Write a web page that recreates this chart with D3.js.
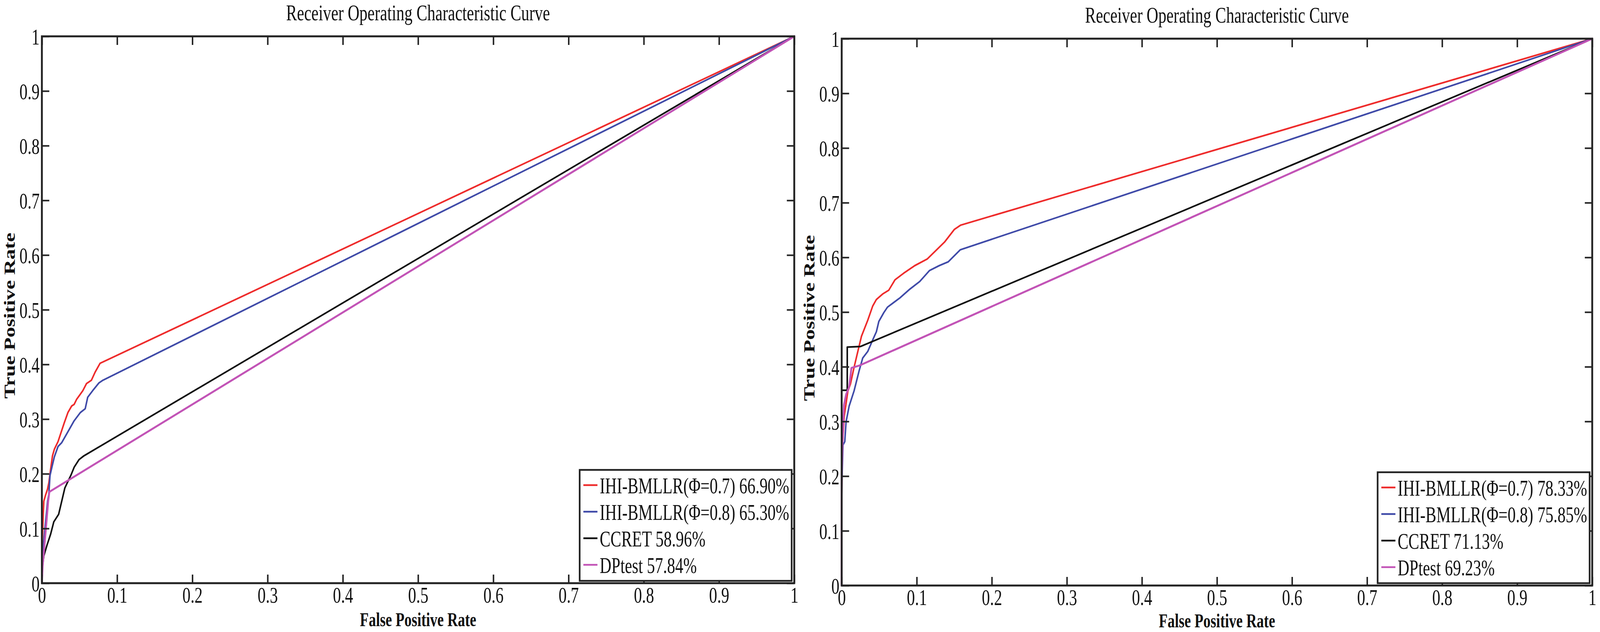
<!DOCTYPE html>
<html>
<head>
<meta charset="utf-8">
<script src="https://cdn.jsdelivr.net/npm/d3@7/dist/d3.min.js"></script>
<style>
  html, body { margin: 0; padding: 0; background: #fff; width: 100%; height: 100%; overflow: hidden; }
  svg { display: block; width: 100vw; height: 100vh; }
</style>
</head>
<body>
<script>
// ---------------- DATA ----------------
const titleText = "Receiver Operating Characteristic Curve";
const xLabelText = "False Positive Rate";
const yLabelText = "True Positive Rate";
const tickValues = [0, 0.1, 0.2, 0.3, 0.4, 0.5, 0.6, 0.7, 0.8, 0.9, 1];
const tickLabels = ["0", "0.1", "0.2", "0.3", "0.4", "0.5", "0.6", "0.7", "0.8", "0.9", "1"];
const seriesNames = ["IHI-BMLLR(\u03A6=0.7)", "IHI-BMLLR(\u03A6=0.8)", "CCRET", "DPtest"];
const leftAUC = ["66.90%", "65.30%", "58.96%", "57.84%"];
const rightAUC = ["78.33%", "75.85%", "71.13%", "69.23%"];

// Left panel ROC points [FPR, TPR]
const leftRed = [[0,0],[0.0003,0.04],[0.0005,0.078],[0.0012,0.10],[0.0018,0.126],[0.0026,0.15],[0.0051,0.162],[0.0075,0.172],[0.0092,0.183],[0.0117,0.209],[0.0141,0.233],[0.0166,0.245],[0.0215,0.259],[0.0297,0.293],[0.0346,0.312],[0.0396,0.324],[0.0429,0.327],[0.0461,0.336],[0.0544,0.352],[0.0593,0.365],[0.0658,0.371],[0.0708,0.386],[0.0773,0.402],[1,1]];
const leftBlue = [[0,0],[0.0003,0.03],[0.001,0.055],[0.0034,0.09],[0.0059,0.126],[0.0076,0.15],[0.0092,0.162],[0.0108,0.197],[0.0133,0.212],[0.0166,0.231],[0.0215,0.25],[0.0264,0.257],[0.0363,0.281],[0.0429,0.297],[0.0511,0.312],[0.0576,0.319],[0.0609,0.34],[0.0675,0.352],[0.0757,0.366],[0.081,0.371],[1,1]];
const leftBlack = [[0,0],[0,0.024],[0.0026,0.05],[0.0067,0.069],[0.0117,0.09],[0.0158,0.112],[0.0223,0.126],[0.0264,0.15],[0.0305,0.174],[0.0346,0.186],[0.0388,0.198],[0.0429,0.212],[0.0494,0.226],[0.056,0.233],[1,1]];
const leftMagenta = [[0,0],[0.001,0.031],[0.0034,0.069],[0.006,0.11],[0.0084,0.15],[0.010,0.167],[1,1]];

// Right panel ROC points [FPR, TPR]
const rightRed = [[0,0],[0,0.15],[0.0008,0.254],[0.0033,0.309],[0.0083,0.356],[0.0116,0.368],[0.0165,0.399],[0.0215,0.428],[0.0264,0.456],[0.0347,0.485],[0.0413,0.511],[0.0462,0.523],[0.0545,0.533],[0.0627,0.540],[0.071,0.559],[0.0825,0.571],[0.0974,0.585],[0.1139,0.597],[0.137,0.628],[0.150,0.651],[0.1584,0.659],[1,1]];
const rightBlue = [[0,0],[0,0.142],[0.0003,0.19],[0.0017,0.257],[0.0041,0.263],[0.0058,0.299],[0.0099,0.328],[0.0165,0.356],[0.0231,0.392],[0.028,0.416],[0.0347,0.428],[0.0413,0.449],[0.0462,0.464],[0.0495,0.483],[0.0561,0.499],[0.061,0.509],[0.0776,0.526],[0.0908,0.542],[0.104,0.556],[0.117,0.576],[0.130,0.585],[0.142,0.592],[0.158,0.614],[1,1]];
const rightBlack = [[0,0],[0,0.357],[0.0074,0.357],[0.0074,0.436],[0.0248,0.437],[1,1]];
const rightMagenta = [[0,0],[0,0.2],[0.001,0.26],[0.003,0.33],[0.006,0.35],[0.0099,0.363],[0.013,0.398],[0.0231,0.402],[1,1]];

const seriesColors = ["#ee2b2b", "#3f4aa8", "#111111", "#c253b6"];

// ---------------- LAYOUT ----------------
const W = 4317, H = 1618;
const FONT = "'Liberation Serif', 'Times New Roman', serif";
const FS = 56;
const SX = 0.78; // horizontal condensing of text

const panels = [
  { x0: 113, x1: 2143, y0: 1493, y1: 93, series: [leftRed, leftBlue, leftBlack, leftMagenta], auc: leftAUC },
  { x0: 2271, x1: 4296, y0: 1499, y1: 99, series: [rightRed, rightBlue, rightBlack, rightMagenta], auc: rightAUC }
];

const svg = d3.select("body").append("svg")
  .attr("viewBox", `0 0 ${W} ${H}`)
  .attr("preserveAspectRatio", "none");
svg.append("rect").attr("width", W).attr("height", H).attr("fill", "#fff");

function addText(g, x, y, str, anchor, rot, bold, size) {
  return g.append("text")
    .attr("transform", `translate(${x},${y}) scale(${SX},1)` + (rot ? " rotate(-90)" : ""))
    .attr("text-anchor", anchor)
    .attr("font-family", FONT)
    .attr("font-size", size || FS)
    .attr("font-weight", bold ? "bold" : "normal")
    .attr("fill", "#111")
    .text(str);
}

panels.forEach(p => {
  const g = svg.append("g");
  const x = d3.scaleLinear().domain([0, 1]).range([p.x0, p.x1]);
  const y = d3.scaleLinear().domain([0, 1]).range([p.y0, p.y1]);

  // curves
  const line = d3.line().x(d => x(d[0])).y(d => y(d[1]));
  p.series.forEach((s, i) => {
    g.append("path").datum(s)
      .attr("d", line)
      .attr("fill", "none")
      .attr("stroke", seriesColors[i])
      .attr("stroke-width", i === 3 ? 5 : 4.2)
      .attr("stroke-linejoin", "round")
      .attr("stroke-linecap", "round");
  });

  // axes (ticks inward on all sides)
  const styleAxis = sel => {
    sel.select(".domain").remove();
    sel.selectAll(".tick line").attr("stroke", "#222").attr("stroke-width", 4);
  };
  const bottom = g.append("g").attr("transform", `translate(0,${p.y0})`)
    .call(d3.axisBottom(x).tickValues(tickValues).tickSizeInner(-22).tickSizeOuter(0)
      .tickFormat((d, i) => tickLabels[i]));
  styleAxis(bottom);
  bottom.selectAll(".tick text")
    .attr("y", null).attr("dy", null)
    .attr("transform", `translate(0,50) scale(${SX},1)`)
    .attr("font-family", FONT).attr("font-size", FS).attr("fill", "#111");

  const left = g.append("g").attr("transform", `translate(${p.x0},0)`)
    .call(d3.axisLeft(y).tickValues(tickValues).tickSizeInner(-20).tickSizeOuter(0)
      .tickFormat((d, i) => tickLabels[i]));
  styleAxis(left);
  left.selectAll(".tick text")
    .attr("x", null).attr("dy", null)
    .attr("text-anchor", "end")
    .attr("transform", `translate(-6,20) scale(${SX},1)`)
    .attr("font-family", FONT).attr("font-size", FS).attr("fill", "#111");

  const top = g.append("g").attr("transform", `translate(0,${p.y1})`)
    .call(d3.axisTop(x).tickValues(tickValues).tickSizeInner(-22).tickSizeOuter(0).tickFormat(""));
  styleAxis(top);
  const right = g.append("g").attr("transform", `translate(${p.x1},0)`)
    .call(d3.axisRight(y).tickValues(tickValues).tickSizeInner(-20).tickSizeOuter(0).tickFormat(""));
  styleAxis(right);

  // frame
  g.append("rect")
    .attr("x", p.x0).attr("y", p.y1)
    .attr("width", p.x1 - p.x0).attr("height", p.y0 - p.y1)
    .attr("fill", "none").attr("stroke", "#222").attr("stroke-width", 5);

  // title & labels
  const cx = (p.x0 + p.x1) / 2;
  addText(g, cx, p.y1 - 41, titleText, "middle");
  addText(g, cx, Math.min(p.y0 + 110, 1606), xLabelText, "middle", false, true, 50);
  addText(g, p.x0 - 73, (p.y0 + p.y1) / 2 + 15, yLabelText, "middle", true, true, 54);

  // legend
  const lw = 572, lh = 284;
  const lx = p.x1 - 7 - lw, ly = p.y0 - 6 - lh;
  const lg = g.append("g");
  lg.append("rect").attr("x", lx).attr("y", ly).attr("width", lw).attr("height", lh)
    .attr("fill", "#fff").attr("stroke", "#222").attr("stroke-width", 4.5);
  seriesNames.forEach((name, i) => {
    const by = ly + 60 + i * 68;
    lg.append("line")
      .attr("x1", lx + 10).attr("x2", lx + 48)
      .attr("y1", by - 21).attr("y2", by - 21)
      .attr("stroke", seriesColors[i]).attr("stroke-width", 4.5);
    addText(lg, lx + 54, by, name + " " + p.auc[i], "start");
  });
});
</script>
</body>
</html>
